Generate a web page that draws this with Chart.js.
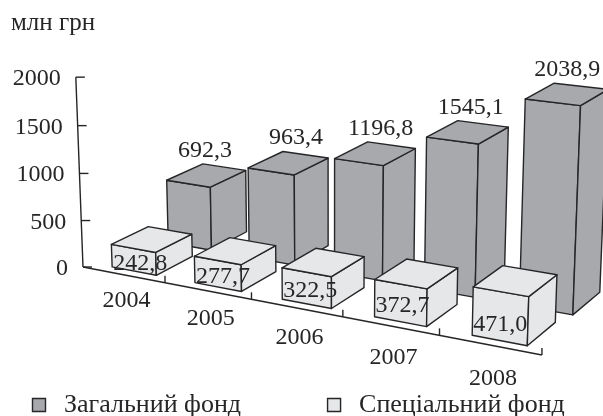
<!DOCTYPE html>
<html>
<head>
<meta charset="utf-8">
<script src="https://cdn.jsdelivr.net/npm/chart.js@4"></script>
<style>
html, body { margin: 0; padding: 0; background: #fff; }
#wrap { width: 603px; height: 416px; }
</style>
</head>
<body>
<div id="wrap"><canvas id="myChart" width="603" height="416"></canvas></div>
<script>
const years = ["2004", "2005", "2006", "2007", "2008"];
const generalFund = [692.3, 963.4, 1196.8, 1545.1, 2038.9];
const specialFund = [242.8, 277.7, 322.5, 372.7, 471.0];
const yTickLabels = ["0", "500", "1000", "1500", "2000"];

const ink = "#262628";
const serif = "'Liberation Serif', serif";

// perspective of the drawing: u = years along the axis, t = share of axis max, z = depth
const project = (u, t, z) => {
    const w = 1 - 0.026 * u - 0.028 * t + 0.01 * z;
    return [(83 + 77.7 * u - 9.3 * t + 13.9 * z) / w, (267 + 8.37 * u - 192 * t - 3.73 * z) / w];
};

const quad = (ctx, pts, fill) => {
    ctx.beginPath();
    pts.forEach((p, i) => i ? ctx.lineTo(p[0], p[1]) : ctx.moveTo(p[0], p[1]));
    ctx.closePath();
    ctx.fillStyle = fill;
    ctx.fill();
    ctx.stroke();
};

const line = (ctx, a, b) => {
    ctx.beginPath();
    ctx.moveTo(a[0], a[1]);
    ctx.lineTo(b[0], b[1]);
    ctx.stroke();
};

const drawAxes = (chart) => {
    const ctx = chart.ctx;
    const xs = chart.scales.x;
    const ys = chart.scales.y;
    const toT = v => (ys.bottom - ys.getPixelForValue(v)) / ys.height;

    line(ctx, project(0, 0, 0), project(0, 1, 0));
    line(ctx, project(0, 0, 0), project(xs.ticks.length, 0, 0));

    ctx.fillStyle = ink;
    ctx.font = "24px " + serif;
    ctx.textBaseline = "alphabetic";
    ys.ticks.forEach((tick) => {
        const p = project(0, toT(tick.value), 0);
        line(ctx, p, [p[0] + 9, p[1]]);
        ctx.textAlign = "right";
        ctx.fillText(tick.label, p[0] - 15, p[1] + 8);
    });
    xs.ticks.forEach((tick, i) => {
        const end = project(i + 1, 0, 0);
        line(ctx, end, [end[0], end[1] - 7]);
        const mid = project(i + 0.5, 0, 0);
        ctx.textAlign = "center";
        ctx.fillText(years[i], mid[0] + 3, mid[1] + 32 + 2 * i);
    });
};

const drawBoxes = (chart, index, shift, zFront, zBack) => {
    const ctx = chart.ctx;
    const xs = chart.scales.x;
    const ys = chart.scales.y;
    const band = xs.width / years.length;
    const meta = chart.getDatasetMeta(index);
    const fill = chart.data.datasets[index].backgroundColor;
    return meta.data.map((bar) => {
        const c = (bar.x - xs.left) / band + shift;
        const half = bar.width / 2 / band;
        const t = (ys.bottom - bar.y) / ys.height;
        const l = c - half;
        const r = c + half;
        const fl0 = project(l, 0, zFront);
        const fl1 = project(l, t, zFront);
        const fr0 = project(r, 0, zFront);
        const fr1 = project(r, t, zFront);
        const br0 = project(r, 0, zBack);
        const br1 = project(r, t, zBack);
        const bl1 = project(l, t, zBack);
        quad(ctx, [fl0, fr0, fr1, fl1], fill);
        quad(ctx, [fr0, br0, br1, fr1], fill);
        quad(ctx, [fl1, fr1, br1, bl1], fill);
        return { fl0, fl1, bl1 };
    });
};

const format = v => v.toFixed(1).replace(".", ",");

const box3d = {
    id: "box3d",
    afterLayout(chart) {
        // legend sits where the figure has it, the gap between entries comes from labels.padding
        const legend = chart.legend;
        legend.left = 27 - legend.options.labels.padding;
        legend.right = 900;
        legend.top = 392 - legend.options.labels.padding;
        legend.bottom = 416;
    },
    beforeDatasetsDraw(chart) {
        const ctx = chart.ctx;
        ctx.save();
        ctx.strokeStyle = ink;
        ctx.lineWidth = 1.4;
        ctx.lineJoin = "round";
        drawAxes(chart);

        const rear = drawBoxes(chart, 0, 0.1, 4.76, 7.9);
        ctx.fillStyle = ink;
        ctx.font = "24px " + serif;
        ctx.textAlign = "center";
        ctx.textBaseline = "alphabetic";
        rear.forEach((b, i) => {
            ctx.fillText(format(generalFund[i]), b.bl1[0] + (i ? 13 : 2), b.bl1[1] - 7);
        });

        const front = drawBoxes(chart, 1, 0.03, 0.64, 3.6);
        ctx.fillStyle = ink;
        ctx.textAlign = "left";
        front.forEach((b, i) => {
            const mid = (b.fl0[1] + b.fl1[1]) / 2;
            ctx.fillText(format(specialFund[i]), b.fl0[0] + 1, mid + (i === 4 ? 20 : 14));
        });
        ctx.restore();
        return false;
    }
};

new Chart(document.getElementById("myChart"), {
    type: "bar",
    data: {
        labels: years,
        datasets: [
            { label: "Загальний фонд", data: generalFund, backgroundColor: "#a7a9ac", borderColor: ink, borderWidth: 1.4 },
            { label: "Спеціальний фонд", data: specialFund, backgroundColor: "#e6e7e8", borderColor: ink, borderWidth: 1.4 }
        ]
    },
    options: {
        responsive: false,
        animation: false,
        grouped: false,
        barPercentage: 0.54,
        categoryPercentage: 1,
        layout: { padding: { left: 11 } },
        scales: {
            x: { grid: { display: false }, border: { display: false }, ticks: { display: false } },
            y: {
                min: 0,
                max: 2000,
                grid: { display: false },
                border: { display: false },
                ticks: { display: false, stepSize: 500, callback: (v, i) => yTickLabels[i] }
            }
        },
        plugins: {
            tooltip: { enabled: false },
            title: {
                display: true,
                text: "млн грн",
                align: "start",
                color: ink,
                font: { family: serif, size: 25, weight: "normal" },
                padding: { top: 8, bottom: 4 }
            },
            legend: {
                position: "bottom",
                align: "start",
                labels: {
                    color: ink,
                    font: { family: serif, size: 26 },
                    usePointStyle: true,
                    pointStyle: "rect",
                    boxWidth: 24,
                    boxHeight: 13,
                    padding: 81
                }
            }
        }
    },
    plugins: [box3d]
});
</script>
</body>
</html>
